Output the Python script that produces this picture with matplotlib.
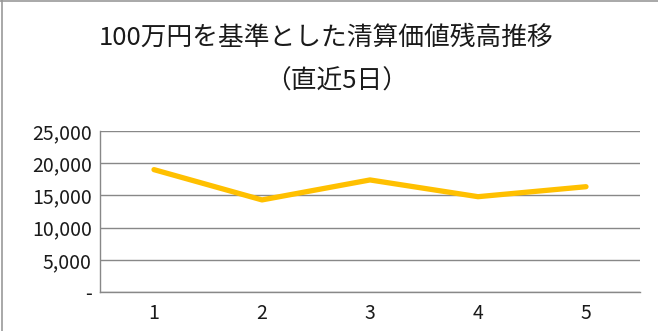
import matplotlib
matplotlib.use("Agg")
import matplotlib.pyplot as plt
from matplotlib.ticker import FuncFormatter
from matplotlib.lines import Line2D

plt.rcParams['font.family'] = ['Noto Sans CJK JP', 'DejaVu Sans']

days = [1, 2, 3, 4, 5]
balance = [19000, 14300, 17400, 14800, 16350]
title_1 = "100万円を基準とした清算価値残高推移"
title_2 = "（直近5日）"

fig = plt.figure(figsize=(6.58, 3.31), dpi=100)
ax = fig.add_axes([100 / 658, 39 / 331, 540 / 658, 161 / 331])

ax.plot(days, balance, color='#FFC000', lw=3.8, solid_capstyle='round', solid_joinstyle='round', zorder=3)

ax.set_xlim(0.5, 5.5)
ax.set_ylim(0, 25000)
ax.set_xticks(days)
ax.set_yticks(range(0, 25001, 5000))
ax.yaxis.set_major_formatter(FuncFormatter(lambda v, p: '-' if v == 0 else f'{int(v):,}'))
ax.grid(axis='y', color='#888888', lw=1)
ax.set_axisbelow(True)
for s in ['top', 'right']:
    ax.spines[s].set_visible(False)
for s in ['left', 'bottom']:
    ax.spines[s].set_color('#888888')
    ax.spines[s].set_linewidth(1)
ax.tick_params(length=0, labelsize=14, colors='#1a1a1a')
ax.tick_params(axis='y', pad=6)
ax.tick_params(axis='x', pad=8)

fig.text(326 / 658, 1 - 38 / 331, title_1, ha='center', va='center', fontsize=18.5, color='#1a1a1a')
fig.text(337 / 658, 1 - 82 / 331, title_2, ha='center', va='center', fontsize=18.5, color='#1a1a1a')

# sheet border remnants
fig.add_artist(Line2D([0, 1], [0.998, 0.998], color='#999999', lw=1.2, transform=fig.transFigure))
fig.add_artist(Line2D([0.003, 0.003], [0, 1], color='#999999', lw=1.2, transform=fig.transFigure))

fig.savefig('out.png', dpi=100)
